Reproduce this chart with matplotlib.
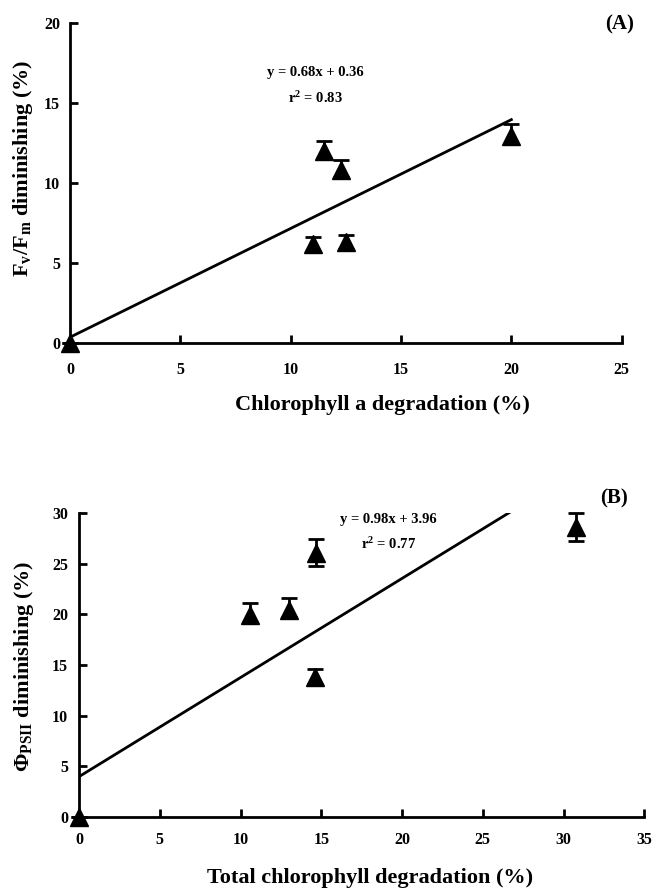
import matplotlib
matplotlib.use('Agg')
import matplotlib.pyplot as plt
import numpy as np

plt.rcParams['font.family'] = ['Liberation Serif', 'DejaVu Serif']
plt.rcParams['font.weight'] = 'bold'
plt.rcParams['mathtext.fontset'] = 'custom'
plt.rcParams['mathtext.rm'] = 'Liberation Serif:bold'
plt.rcParams['mathtext.it'] = 'Liberation Serif:bold'
plt.rcParams['mathtext.bf'] = 'Liberation Serif:bold'

# panel A: chlorophyll a degradation vs Fv/Fm diminishing
chla_x = [0, 11.0, 11.5, 12.3, 12.5, 20.0]
fvfm_y = [0, 6.2, 12.0, 10.8, 6.3, 12.95]
fvfm_err_lo = [0, 0.45, 0.45, 0.45, 0.45, 0.5]
fvfm_err_hi = [0, 0.45, 0.65, 0.65, 0.45, 0.75]
slope_a, icpt_a = 0.68, 0.36

# panel B: total chlorophyll degradation vs PhiPSII diminishing
chlt_x = [0, 10.6, 13.0, 14.7, 14.6, 30.8]
phi_y = [0, 19.95, 20.45, 26.05, 13.85, 28.65]
phi_err_lo = [0, 0.7, 0.7, 1.25, 0.7, 1.35]
phi_err_hi = [0, 1.15, 1.2, 1.4, 0.8, 1.4]
slope_b, icpt_b = 0.98, 3.96

W, H = 654, 892
fig = plt.figure(figsize=(W / 100, H / 100), dpi=100)


def px_axes(l, t, r, b):
    return fig.add_axes([l / W, 1 - b / H, (r - l) / W, (b - t) / H])


def style(ax, xmax, ymax, xpad, ypad):
    for s in ['top', 'right']:
        ax.spines[s].set_visible(False)
    for s in ['left', 'bottom']:
        ax.spines[s].set_linewidth(2)
    ax.set_xlim(0, xmax)
    ax.set_ylim(0, ymax)
    ax.set_xticks(np.arange(0, xmax + 1, 5))
    ax.set_yticks(np.arange(0, ymax + 1, 5))
    ax.tick_params(axis='x', direction='in', length=6, width=2, labelsize=11.5, pad=xpad)
    ax.tick_params(axis='y', direction='in', length=6, width=2, labelsize=11.5, pad=ypad)
    for lab in ax.get_xticklabels() + ax.get_yticklabels():
        lab.set_fontweight('bold')


def panel(ax, x, y, lo, hi, slope, icpt, xend):
    ax.errorbar(x, y, yerr=[lo, hi], fmt='none', ecolor='black', elinewidth=2,
                capsize=5.5, capthick=2, clip_on=False, zorder=3)
    ax.plot(x, y, linestyle='none', marker='^', markersize=13, color='black',
            clip_on=False, zorder=4)
    xs = np.array([0, xend])
    ax.plot(xs, slope * xs + icpt, color='black', linewidth=2, zorder=2)


# ---- panel A
axA = px_axes(70, 23, 621.7, 343)
style(axA, 25, 20, 14, 7)
panel(axA, chla_x, fvfm_y, fvfm_err_lo, fvfm_err_hi, slope_a, icpt_a, max(chla_x))
axA.text(11.1, 16.9, 'y = 0.68x + 0.36', ha='center', va='center', fontsize=10.5, fontweight='bold')
axA.text(11.1, 15.3, r'r$^{2}$ = 0.83', ha='center', va='center', fontsize=10.5, fontweight='bold')
axA.text(24.9, 19.9, '(A)', ha='center', va='center', fontsize=15, fontweight='bold')
fig.text(382.5 / W, 1 - 405 / H, 'Chlorophyll a degradation (%)', ha='center', va='center',
         fontsize=16, fontweight='bold')
fig.text(23 / W, 1 - 168.5 / H, r'F$_{\mathrm{v}}$/F$_{\mathrm{m}}$ diminishing (%)',
         rotation=90, ha='center', va='center', fontsize=16, fontweight='bold')

# ---- panel B
axB = px_axes(79, 513.3, 644.3, 816.7)
style(axB, 35, 30, 11, 8)
panel(axB, chlt_x, phi_y, phi_err_lo, phi_err_hi, slope_b, icpt_b, max(chlt_x))
axB.text(19.15, 29.4, 'y = 0.98x + 3.96', ha='center', va='center', fontsize=10.5, fontweight='bold')
axB.text(19.15, 27.0, r'r$^{2}$ = 0.77', ha='center', va='center', fontsize=10.5, fontweight='bold')
axB.text(33.1, 31.5, '(B)', ha='center', va='center', fontsize=15, fontweight='bold')
fig.text(370 / W, 1 - 878 / H, 'Total chlorophyll degradation (%)', ha='center', va='center',
         fontsize=16, fontweight='bold')
fig.text(24 / W, 1 - 666 / H, r'$\Phi_{\mathrm{PSII}}$ diminishing (%)',
         rotation=90, ha='center', va='center', fontsize=16, fontweight='bold')

fig.savefig('out.png', dpi=100)
